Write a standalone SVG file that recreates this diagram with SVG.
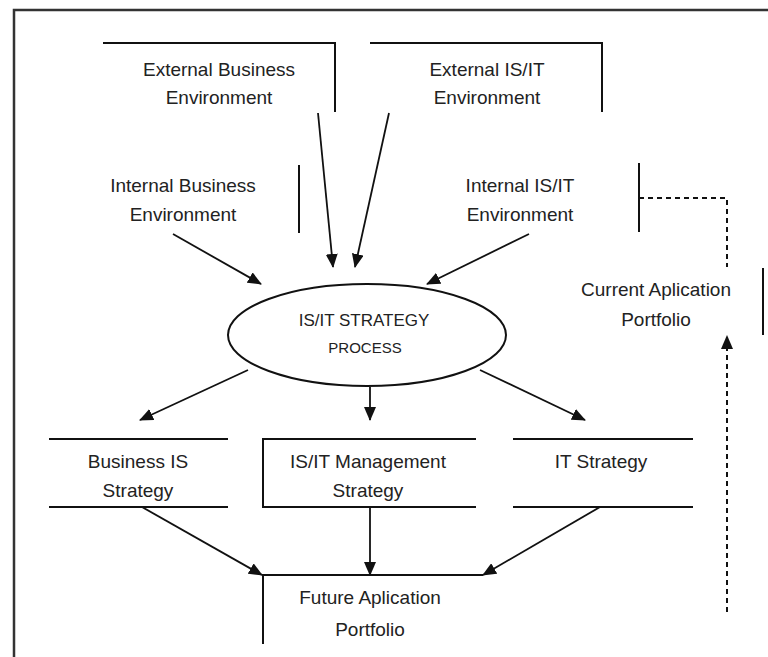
<svg xmlns="http://www.w3.org/2000/svg" width="768" height="657" viewBox="0 0 768 657">
<defs>
<marker id="ah" markerUnits="userSpaceOnUse" markerWidth="14" markerHeight="12" refX="13" refY="6" orient="auto">
<path d="M0,0 L14,6 L0,12 Z" fill="#111"/>
</marker>
<style>
.ln{stroke:#111;stroke-width:2;fill:none}
.ar{stroke:#111;stroke-width:1.8;fill:none;marker-end:url(#ah)}
.ds{stroke:#111;stroke-width:2;fill:none;stroke-dasharray:5,4}
.t{font-family:"Liberation Sans",Arial,sans-serif;font-size:19px;fill:#222;text-anchor:middle}
</style>
</defs>
<rect width="768" height="657" fill="#fff"/>
<g id="frame">
<path d="M14,657 V10 H768" stroke="#333" stroke-width="2.5" fill="none"/>
</g>
<g id="ext-business">
<path class="ln" d="M103,43 H335 V112"/>
<text class="t" x="219" y="76">External Business</text>
<text class="t" x="219" y="104">Environment</text>
</g>
<g id="ext-isit">
<path class="ln" d="M370,43 H602 V112"/>
<text class="t" x="487" y="76">External IS/IT</text>
<text class="t" x="487" y="104">Environment</text>
</g>
<g id="int-business">
<path class="ln" d="M299,165 V233"/>
<text class="t" x="183" y="192">Internal Business</text>
<text class="t" x="183" y="221">Environment</text>
</g>
<g id="int-isit">
<path class="ln" d="M639,163 V232"/>
<text class="t" x="520" y="192">Internal IS/IT</text>
<text class="t" x="520" y="221">Environment</text>
</g>
<g id="current">
<path class="ln" d="M763,268 V335"/>
<text class="t" x="656" y="296">Current Aplication</text>
<text class="t" x="656" y="326">Portfolio</text>
</g>
<g id="process">
<ellipse cx="367" cy="335" rx="139" ry="51" stroke="#111" stroke-width="2" fill="#fff"/>
<text class="t" x="364" y="326" style="font-size:17px">IS/IT STRATEGY</text>
<text class="t" x="365" y="353" style="font-size:15px">PROCESS</text>
</g>
<g id="business-is">
<path class="ln" d="M49,439 H228 M49,507 H228"/>
<text class="t" x="138" y="468">Business IS</text>
<text class="t" x="138" y="497">Strategy</text>
</g>
<g id="management">
<path class="ln" d="M476,439 H263 V507 H476"/>
<text class="t" x="368" y="468">IS/IT Management</text>
<text class="t" x="368" y="497">Strategy</text>
</g>
<g id="it-strategy">
<path class="ln" d="M513,439 H693 M513,507 H693"/>
<text class="t" x="601" y="468">IT Strategy</text>
</g>
<g id="future">
<path class="ln" d="M483,575 H263 V644"/>
<text class="t" x="370" y="604">Future Aplication</text>
<text class="t" x="370" y="636">Portfolio</text>
</g>
<g id="connectors">
<path class="ar" d="M318,113 L333,267"/>
<path class="ar" d="M389,113 L355,267"/>
<path class="ar" d="M173,234 L261,284"/>
<path class="ar" d="M529,234 L427,284"/>
<path class="ar" d="M248,370 L140,420"/>
<path class="ar" d="M370,387 L370,420"/>
<path class="ar" d="M480,370 L585,420"/>
<path class="ar" d="M142,507 L262,575"/>
<path class="ar" d="M370,507 L370,575"/>
<path class="ar" d="M600,507 L483,575"/>
<path class="ds" d="M639,198 H727 V267"/>
<path class="ds" d="M727,612 V348"/>
<path d="M727,335 L733,349 L721,349 Z" fill="#111"/>
</g>
</svg>
